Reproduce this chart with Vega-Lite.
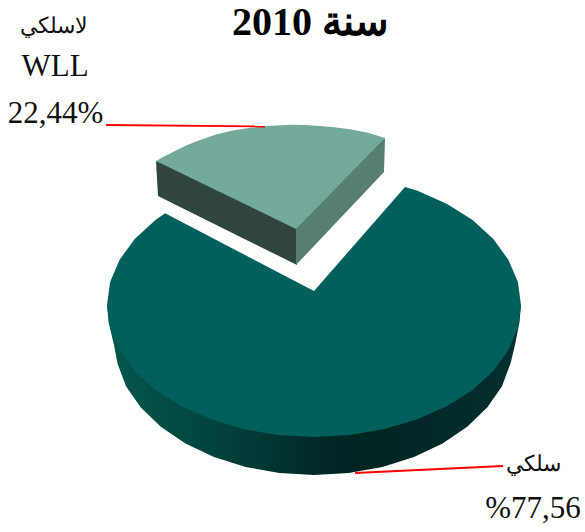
{
"$schema":"https://vega.github.io/schema/vega-lite/v6.json",
"width":585,"height":532,"padding":0,"autosize":{"type":"none"},
"background":"white",
"title":{"text":"\u202bسنة 2010\u202c","font":"Liberation Serif","fontSize":40,"fontWeight":"bold","color":"#000000","anchor":"middle","dx":18,"offset":-43},
"projection":{"type":"identity","scale":1,"translate":[0,0]},
"config":{"view":{"stroke":null}},
"layer":[
{"data":{"values":[{"type":"Feature","properties":{"face":"سلكي جانب","share":77.56},"geometry":{"type":"Polygon","coordinates":[[[107,305],[108.5,322],[114,345],[117.5,363.4],[126,386.2],[140.8,407.5],[160.8,426.8],[185.4,443.4],[214,456.9],[245.6,466.9],[279.3,473],[314,475],[348.7,473],[382.4,466.9],[414,456.9],[442.6,443.4],[467.2,426.8],[487.2,407.5],[502,386.2],[510.5,363.4],[515,345],[519.5,322],[521,305],[107,305]]]}}]},
"mark":{"type":"geoshape","strokeWidth":0,"fill":{"x1":0,"x2":1,"y1":0,"y2":0,"gradient":"linear","stops":[{"offset":0,"color":"#02574f"},{"offset":0.25,"color":"#01443f"},{"offset":0.5,"color":"#012a29"},{"offset":0.6,"color":"#012422"},{"offset":1,"color":"#03302f"}]}}},
{"data":{"values":[
{"type":"Feature","properties":{"face":"سلكي","share":77.56},"geometry":{"type":"Polygon","coordinates":[[[405,187],[417.5,190.7],[447.1,203.9],[472.6,220.1],[493.3,239],[508.5,259.9],[517.9,282],[521,305],[517.9,328],[508.5,350.1],[493.3,371],[472.6,389.9],[447.1,406.1],[417.5,419.3],[384.8,429.1],[350,435],[314,437],[278,435],[243.2,429.1],[210.5,419.3],[180.9,406.1],[155.4,389.9],[134.7,371],[119.5,350.1],[110.1,328],[107,305],[110.1,282],[119.5,259.9],[134.7,239],[155.4,220.1],[165.1,213.3],[314,291],[405,187]]]}},
{"type":"Feature","properties":{"face":"لاسلكي يسار","share":22.44},"geometry":{"type":"Polygon","coordinates":[[[156,161],[158,196],[297,265],[297,229],[250,185],[156,161]]]}},
{"type":"Feature","properties":{"face":"لاسلكي يمين","share":22.44},"geometry":{"type":"Polygon","coordinates":[[[385,138],[384,172],[296,265],[296,229],[320,180],[385,138]]]}},
{"type":"Feature","properties":{"face":"لاسلكي","share":22.44},"geometry":{"type":"Polygon","coordinates":[[[156,161],[164,156.5],[173,152],[186,145.5],[200,140],[216,134.5],[233,130.5],[250,127.8],[267,126],[290,124.8],[304,125],[317,125.8],[334,127.2],[350,129.2],[368,132.8],[385,138],[296,229],[156,161]]]}}
]},
"mark":{"type":"geoshape","strokeWidth":0},
"encoding":{"color":{"field":"properties.face","type":"nominal","legend":null,"scale":{"domain":["سلكي","لاسلكي يسار","لاسلكي يمين","لاسلكي"],"range":["#01605c","#30453f","#587d72","#75a99c"]}}}},
{"data":{"values":[
{"type":"Feature","properties":{"label":"لاسلكي"},"geometry":{"type":"LineString","coordinates":[[106,125],[265,126.5]]}},
{"type":"Feature","properties":{"label":"سلكي"},"geometry":{"type":"LineString","coordinates":[[355,473],[503,466]]}}
]},
"mark":{"type":"geoshape","filled":false,"stroke":"#ff0000","strokeWidth":1.8}},
{"data":{"values":[
{"text":"لاسلكي","lon":54,"lat":26,"size":22},
{"text":"WLL","lon":55,"lat":67,"size":31},
{"text":"22,44%","lon":55.5,"lat":114,"size":31},
{"text":"سلكي","lon":533,"lat":464,"size":22},
{"text":"%77,56","lon":533,"lat":509,"size":31}
]},
"mark":{"type":"text","font":"Liberation Serif","color":"#111111","align":"center","baseline":"middle"},
"encoding":{"longitude":{"field":"lon","type":"quantitative"},"latitude":{"field":"lat","type":"quantitative"},"text":{"field":"text","type":"nominal"},"size":{"field":"size","type":"quantitative","scale":null,"legend":null}}}
]
}
